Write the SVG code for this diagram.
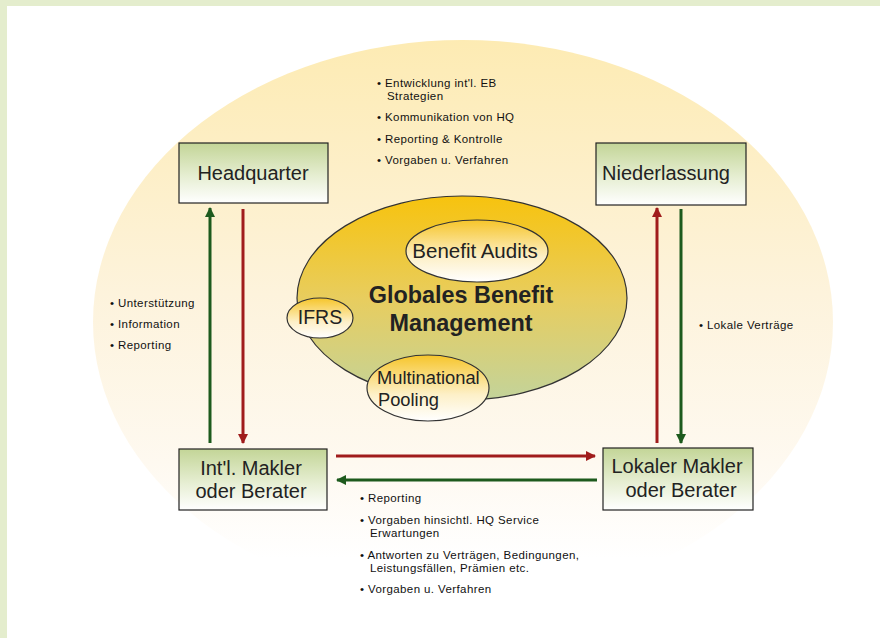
<svg xmlns="http://www.w3.org/2000/svg" width="880" height="638" viewBox="0 0 880 638">
<defs>
<linearGradient id="bgEll" x1="0" y1="0" x2="0" y2="1">
<stop offset="0" stop-color="#FDEBB3"/>
<stop offset="0.45" stop-color="#FDF3DC"/>
<stop offset="0.75" stop-color="#FEF9F0"/>
<stop offset="0.92" stop-color="#FFFFFF"/>
</linearGradient>
<linearGradient id="boxG" x1="0" y1="0" x2="0" y2="1">
<stop offset="0" stop-color="#C3D597"/>
<stop offset="0.55" stop-color="#E6EED2"/>
<stop offset="1" stop-color="#FFFFFF"/>
</linearGradient>
<linearGradient id="mainG" x1="0" y1="0" x2="0" y2="1">
<stop offset="0" stop-color="#F7C30E"/>
<stop offset="0.5" stop-color="#E8CD5E"/>
<stop offset="1" stop-color="#C3D39A"/>
</linearGradient>
<linearGradient id="subG" x1="0" y1="0" x2="0" y2="1">
<stop offset="0" stop-color="#F6C52A"/>
<stop offset="0.6" stop-color="#FDF0C8"/>
<stop offset="1" stop-color="#FFFFFF"/>
</linearGradient>
<marker id="mRed" viewBox="0 0 10 10" refX="9" refY="5" markerWidth="3.4" markerHeight="3.4" orient="auto" markerUnits="strokeWidth">
<path d="M0,0 L10,5 L0,10 z" fill="#A01C1C"/>
</marker>
<marker id="mGreen" viewBox="0 0 10 10" refX="9" refY="5" markerWidth="3.4" markerHeight="3.4" orient="auto" markerUnits="strokeWidth">
<path d="M0,0 L10,5 L0,10 z" fill="#1D5A1D"/>
</marker>
</defs>
<style>
.box{fill:url(#boxG);stroke:#222;stroke-width:1.2}
.bt{font-family:"Liberation Sans",Arial,sans-serif;font-size:20px;fill:#222;text-anchor:middle}
.sub{fill:url(#subG);stroke:#333;stroke-width:1.2}
.st{font-family:"Liberation Sans",Arial,sans-serif;fill:#222}
.bl{font-family:"Liberation Sans",Arial,sans-serif;font-size:11.5px;letter-spacing:0.4px;fill:#111}
.red{stroke:#A01C1C;stroke-width:3;fill:none;marker-end:url(#mRed)}
.green{stroke:#1D5A1D;stroke-width:3;fill:none;marker-end:url(#mGreen)}
</style>
<rect x="0" y="0" width="880" height="638" fill="#FFFFFF"/>
<rect x="0" y="0" width="880" height="6" fill="#E4EDCD"/>
<rect x="0" y="0" width="7" height="638" fill="#E4EDCD"/>
<ellipse cx="463" cy="322" rx="370" ry="282" fill="url(#bgEll)"/>

<g id="center">
<ellipse cx="462" cy="298" rx="165" ry="102" fill="url(#mainG)" stroke="#333" stroke-width="1.2"/>
<text class="st" x="461" y="303" font-size="23.4" font-weight="bold" text-anchor="middle" fill="#111">Globales Benefit</text>
<text class="st" x="461" y="331" font-size="23.4" font-weight="bold" text-anchor="middle" fill="#111">Management</text>
</g>
<g id="benefit-audits">
<ellipse cx="477" cy="251" rx="71" ry="31" class="sub"/>
<text class="st" x="475" y="258" font-size="20.5" text-anchor="middle">Benefit Audits</text>
</g>
<g id="ifrs">
<ellipse cx="320" cy="318" rx="33" ry="20" class="sub"/>
<text class="st" x="320" y="324" font-size="19.5" text-anchor="middle">IFRS</text>
</g>
<g id="pooling">
<ellipse cx="428" cy="388" rx="61" ry="33" class="sub"/>
<text class="st" x="377" y="384" font-size="18.3">Multinational</text>
<text class="st" x="378" y="406" font-size="18.3">Pooling</text>
</g>

<g id="headquarter">
<rect x="179" y="143" width="149" height="60" class="box"/>
<text class="bt" x="253" y="180" font-size="19.5">Headquarter</text>
</g>
<g id="niederlassung">
<rect x="596" y="143" width="150" height="62" class="box"/>
<text class="bt" x="666" y="180" font-size="19.5">Niederlassung</text>
</g>
<g id="intl-makler">
<rect x="179" y="449" width="148" height="61" class="box"/>
<text class="bt" x="251" y="475">Int'l. Makler</text>
<text class="bt" x="251" y="498">oder Berater</text>
</g>
<g id="lokaler-makler">
<rect x="603" y="448" width="150" height="62" class="box"/>
<text class="bt" x="677" y="473">Lokaler Makler</text>
<text class="bt" x="681" y="497">oder Berater</text>
</g>

<g id="connectors">
<line x1="210" y1="443" x2="210" y2="208" class="green"/>
<line x1="243" y1="209" x2="243" y2="443" class="red"/>
<line x1="657" y1="443" x2="657" y2="208" class="red"/>
<line x1="681" y1="209" x2="681" y2="443" class="green"/>
<line x1="336" y1="456" x2="595" y2="456" class="red"/>
<line x1="597" y1="480" x2="337" y2="480" class="green"/>
</g>

<g id="labels">
<text class="bl" x="377" y="87">• Entwicklung int'l. EB</text>
<text class="bl" x="387" y="100">Strategien</text>
<text class="bl" x="377" y="121">• Kommunikation von HQ</text>
<text class="bl" x="377" y="143">• Reporting &amp; Kontrolle</text>
<text class="bl" x="377" y="164">• Vorgaben u. Verfahren</text>

<text class="bl" x="110" y="307">• Unterstützung</text>
<text class="bl" x="110" y="328">• Information</text>
<text class="bl" x="110" y="349">• Reporting</text>

<text class="bl" x="699" y="329">• Lokale Verträge</text>

<text class="bl" x="360" y="502">• Reporting</text>
<text class="bl" x="360" y="524">• Vorgaben hinsichtl. HQ Service</text>
<text class="bl" x="370" y="537">Erwartungen</text>
<text class="bl" x="360" y="559">• Antworten zu Verträgen, Bedingungen,</text>
<text class="bl" x="370" y="572">Leistungsfällen, Prämien etc.</text>
<text class="bl" x="360" y="593">• Vorgaben u. Verfahren</text>
</g>
</svg>
